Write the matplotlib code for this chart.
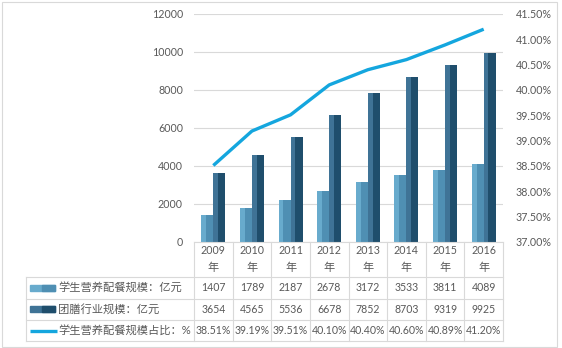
import numpy as np
import matplotlib
matplotlib.use("Agg")
import matplotlib.pyplot as plt
from matplotlib.patches import Rectangle

plt.rcParams["font.family"] = ["Lato", "Noto Sans CJK SC", "DejaVu Sans"]

years = ["2009", "2010", "2011", "2012", "2013", "2014", "2015", "2016"]
nutrition = [1407, 1789, 2187, 2678, 3172, 3533, 3811, 4089]        # 学生营养配餐规模
catering = [3654, 4565, 5536, 6678, 7852, 8703, 9319, 9925]         # 团膳行业规模
share = [38.51, 39.19, 39.51, 40.10, 40.40, 40.60, 40.89, 41.20]     # 占比 %
row_labels = ["学生营养配餐规模：亿元", "团膳行业规模：亿元", "学生营养配餐规模占比：%"]

TXT = "#595959"
GRID = "#d9d9d9"
LIGHT, LIGHT_D = "#68abcd", "#4f8fb3"
DARK, DARK_D = "#3f7396", "#1f4e6c"
LINE = "#14a6de"

W, H = 562, 348
fig = plt.figure(figsize=(W / 100, H / 100), dpi=100)

x0, x1, ybot, ytop = 194, 503, 242, 14
ax = fig.add_axes([x0 / W, 1 - ybot / H, (x1 - x0) / W, (ybot - ytop) / H])
x = np.arange(len(years))
w = 0.31
ax.bar(x - w / 2, nutrition, w, color=LIGHT, zorder=2)
ax.bar(x - w / 2 + w * 0.2, nutrition, w * 0.6, color=LIGHT_D, zorder=2)
ax.bar(x + w / 2, catering, w, color=DARK, zorder=2)
ax.bar(x + w / 2 + w * 0.2, catering, w * 0.6, color=DARK_D, zorder=2)
ax.set_xlim(-0.5, len(years) - 0.5)
ax.set_ylim(0, 12000)
ax.set_yticks(range(0, 12001, 2000))
ax.grid(axis="y", color=GRID, lw=0.8, zorder=0)
ax.set_xticks([])
ax.tick_params(axis="y", length=0, pad=8, labelsize=7.7, labelcolor=TXT)
for s in ax.spines.values():
    s.set_visible(False)

ax2 = ax.twinx()
ax2.plot(x, share, color=LINE, lw=2.4, solid_capstyle="butt", zorder=3)
ax2.set_ylim(37, 41.5)
ax2.set_yticks(np.arange(37, 41.51, 0.5))
ax2.set_yticklabels([f"{v:.2f}%" for v in np.arange(37, 41.51, 0.5)])
ax2.tick_params(axis="y", length=0, pad=9, labelsize=7.7, labelcolor=TXT)
for s in ax2.spines.values():
    s.set_visible(False)

# data table drawn in pixel coordinates
tb = fig.add_axes([0, 0, 1, 1])
tb.set_xlim(0, W)
tb.set_ylim(H, 0)
tb.axis("off")
tb.patch.set_alpha(0)

cw = (x1 - x0) / len(years)
tl = 26
rows_y = [277, 298.5, 320, 341]
lk = dict(color=GRID, lw=0.8)
tb.plot([x0, x1], [ybot, ybot], **lk)
for yy in rows_y:
    tb.plot([tl, x1], [yy, yy], **lk)
for i in range(len(years) + 1):
    tb.plot([x0 + i * cw] * 2, [ybot, rows_y[-1]], **lk)
tb.plot([tl, tl], [rows_y[0], rows_y[-1]], **lk)

for i, yr in enumerate(years):
    cx = x0 + (i + 0.5) * cw
    tb.text(cx, 251, yr, ha="center", va="center", fontsize=7.7, color=TXT)
    tb.text(cx, 268, "年", ha="center", va="center", fontsize=8, color=TXT)

vals = [[str(v) for v in nutrition], [str(v) for v in catering], [f"{v:.2f}%" for v in share]]
for r in range(3):
    cy = (rows_y[r] + rows_y[r + 1]) / 2
    for i, v in enumerate(vals[r]):
        tb.text(x0 + (i + 0.5) * cw, cy, v, ha="center", va="center", fontsize=7.6, color=TXT)
    tb.text(58, cy, row_labels[r], ha="left", va="center", fontsize=8.1, color=TXT)

for r, (c, cd) in enumerate([(LIGHT, LIGHT_D), (DARK, DARK_D)]):
    cy = (rows_y[r] + rows_y[r + 1]) / 2
    tb.add_patch(Rectangle((30, cy - 3), 25, 6, color=c))
    tb.add_patch(Rectangle((42, cy - 3), 13, 6, color=cd))
cy = (rows_y[2] + rows_y[3]) / 2
tb.plot([30, 57], [cy, cy], color=LINE, lw=2.4, solid_capstyle="butt")

tb.add_patch(Rectangle((1.5, 1.5), 555, 345, fill=False, ec=GRID, lw=0.8))

fig.savefig("out.png", dpi=100)
